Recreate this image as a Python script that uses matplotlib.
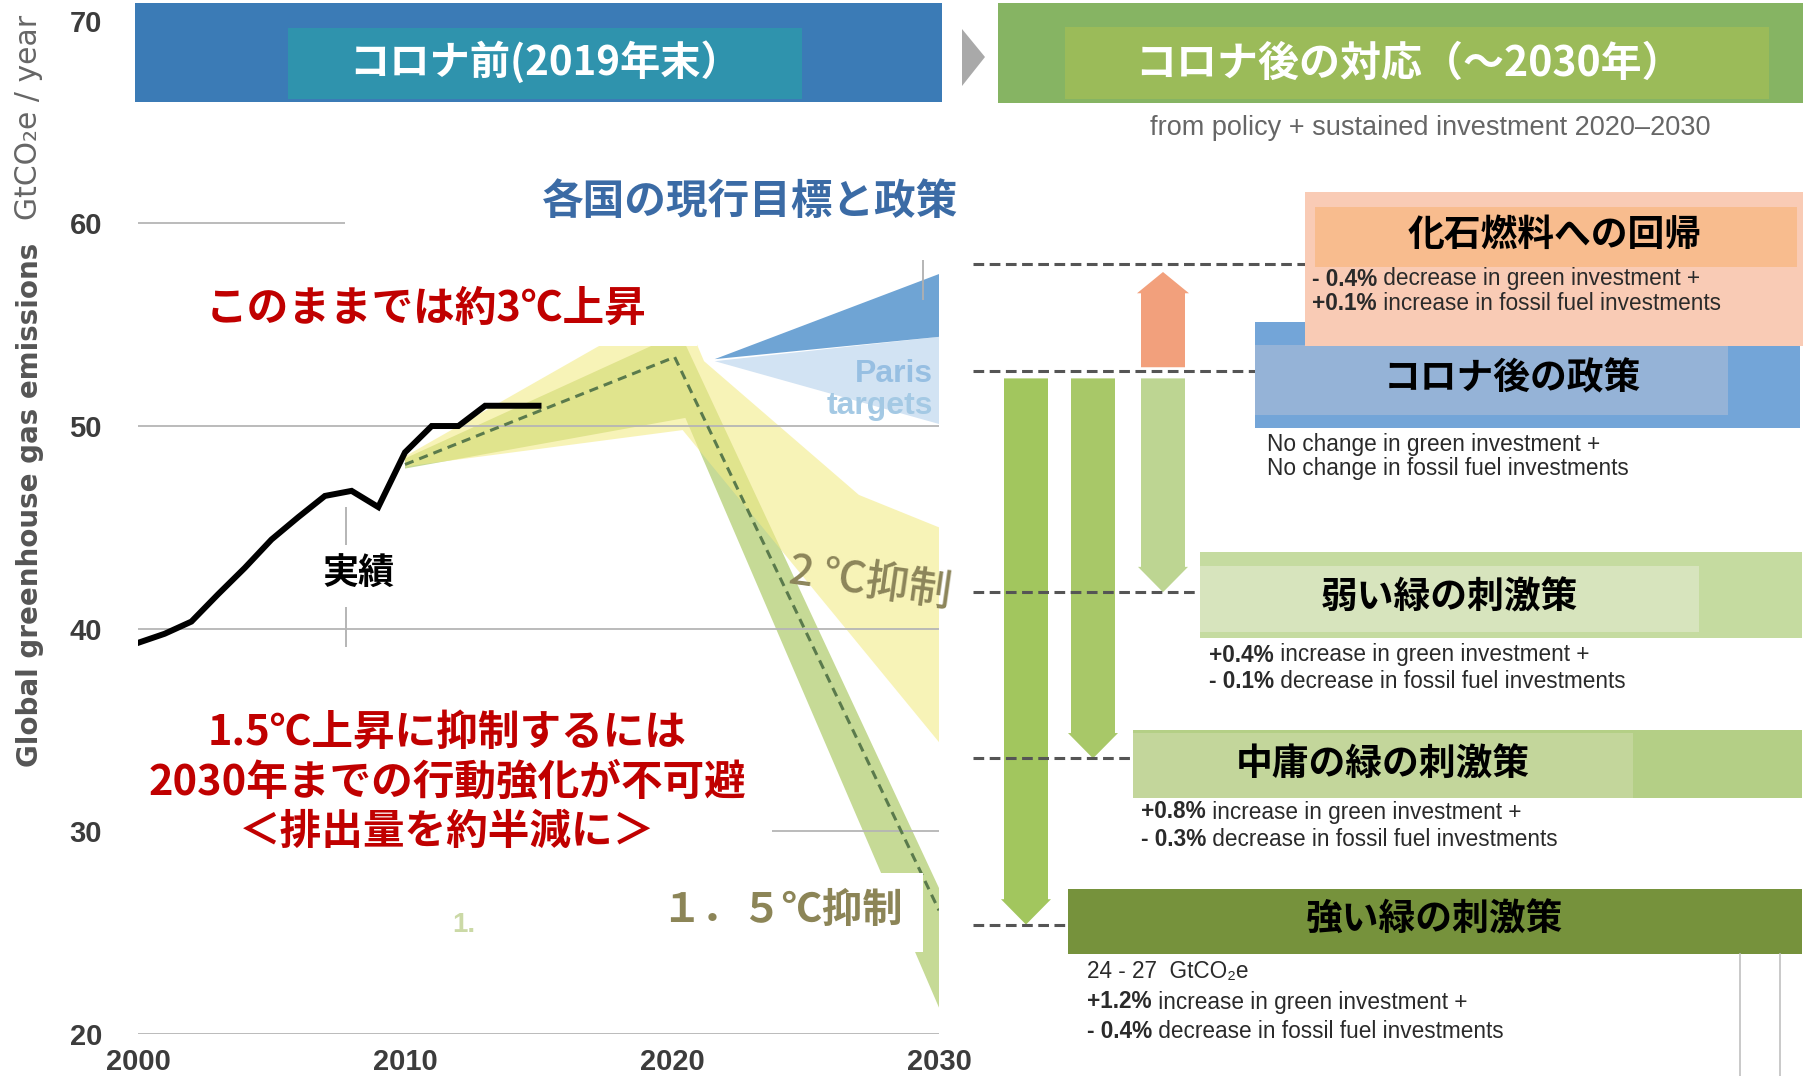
import matplotlib
matplotlib.use('Agg')
import matplotlib.pyplot as plt
from matplotlib.patches import Rectangle, Polygon, FancyArrow

W, H = 1806, 1076
JP = ['Noto Sans CJK JP', 'DejaVu Sans']
LAT = ['Liberation Sans', 'DejaVu Sans']

# --- data (GtCO2e / year) ---
hist_years = list(range(2000, 2016))
hist_emis = [39.3, 39.75, 40.35, 41.7, 43.0, 44.4, 45.5, 46.55, 46.8, 46.0,
             48.7, 50.0, 50.0, 51.0, 51.0, 51.0]

path_years = [2010, 2020.1, 2030]
path_emis = [48.1, 53.4, 26.1]

yellow_years = [2010, 2017.2, 2020.3, 2021.2, 2027.0, 2030, 2030, 2020.4, 2010]
yellow_emis = [48.5, 53.9, 56.0, 53.2, 46.6, 45.0, 34.4, 49.8, 48.0]

green_years = [2010, 2020.3, 2030, 2030, 2020.5, 2010]
green_emis = [48.4, 54.6, 27.2, 21.3, 50.4, 47.9]

paris_dark_years = [2021.6, 2030, 2030]
paris_dark_emis = [53.3, 57.5, 54.4]
paris_light_years = [2021.6, 2030, 2030]
paris_light_emis = [53.2, 54.4, 50.1]

marker_years = [2007.8, 2029.4]
marker_low = [39.1, 56.2]
marker_high = [46.0, 58.2]

yticks = [20, 30, 40, 50, 60, 70]
xticks = [2000, 2010, 2020, 2030]

# scenario levels in 2030
scenario_names = ['化石燃料への回帰', 'コロナ後の政策', '弱い緑の刺激策', '中庸の緑の刺激策', '強い緑の刺激策']
scenario_levels = [58.0, 52.7, 41.8, 33.6, 25.4]
arrow_start = 52.35
fossil_start = 52.9


def frac(x0, y0, x1, y1):
    return [x0 / W, 1 - y1 / H, (x1 - x0) / W, (y1 - y0) / H]


fig = plt.figure(figsize=(W / 100, H / 100), dpi=100)
fig.patch.set_facecolor('white')

# ---------------- chart ----------------
ax = fig.add_axes(frac(138, 20.7, 939, 1034))
ax.set_xlim(2000, 2030)
ax.set_ylim(20, 70)
for s in ax.spines.values():
    s.set_visible(False)
ax.set_yticks(yticks, labels=[str(v) for v in yticks], fontsize=21,
              fontweight='bold', family=LAT, color='#3c3c3c')
ax.set_xticks(xticks, labels=[str(v) for v in xticks], fontsize=21,
              fontweight='bold', family=LAT, color='#3c3c3c')
ax.tick_params(axis='y', length=0, pad=26)
ax.tick_params(axis='x', length=0, pad=10)
ax.set_axisbelow(False)
ax.grid(axis='y', color='#b5b5b5', lw=1.3, zorder=2.5)
ax.grid(axis='x', visible=False)

ax.fill(paris_light_years, paris_light_emis, color='#d2e3f3', lw=0, zorder=1)
ax.fill(paris_dark_years, paris_dark_emis, color='#6fa4d4', lw=0, zorder=1.1)
ax.fill(green_years, green_emis, color='#c6da96', lw=0, zorder=1.2)
ax.fill(yellow_years, yellow_emis, color='#f3eb88', alpha=0.6, lw=0, zorder=1.4)
ax.plot(path_years, path_emis, color='#5a7a4c', lw=2.2, ls=(0, (3, 2)), zorder=3)
ax.vlines(marker_years, marker_low, marker_high, color='#b0b0b0', lw=1.3, zorder=2)
ax.plot(hist_years, hist_emis, color='black', lw=4.3, solid_joinstyle='miter', zorder=4)

ax.set_ylabel('Global greenhouse gas emissions', fontsize=20, fontweight='bold',
              color='#555555', family=['DejaVu Sans'])
ax.yaxis.set_label_coords((44 - 138) / 801, (1034 - 505) / 1013.3)

# ---------------- right panel (same y scale) ----------------
rax = fig.add_axes(frac(939, 20.7, 1806, 1034))
rax.set_xlim(939, 1806)
rax.set_ylim(20, 70)
rax.axis('off')

dash_ends = [1307, 1255, 1200, 1133, 1069]
for lvl, x1 in zip(scenario_levels, dash_ends):
    rax.plot([973, x1], [lvl, lvl], color='#555555', lw=2.2, ls=(0, (3.5, 1.8)))

arrow_x = [1026, 1093, 1163]
arrow_cols = ['#a2c65e', '#a8c868', '#bdd592']
for x, lvl, c in zip(arrow_x, scenario_levels[::-1][:3], arrow_cols):
    rax.add_patch(FancyArrow(x, arrow_start, 0, lvl - arrow_start, width=44,
                             head_width=50, head_length=1.25,
                             length_includes_head=True, color=c, lw=0))
rax.add_patch(FancyArrow(1163, fossil_start, 0, scenario_levels[0] - 0.4 - fossil_start,
                         width=44, head_width=52, head_length=1.05,
                         length_includes_head=True, color='#f2a07c', lw=0))

# ---------------- decorations (pixel coords) ----------------
deco = fig.add_axes([0, 0, 1, 1])
deco.set_xlim(0, W)
deco.set_ylim(H, 0)
deco.axis('off')


def box(x0, y0, x1, y1, color, z=1):
    deco.add_patch(Rectangle((x0, y0), x1 - x0, y1 - y0, facecolor=color,
                             edgecolor='none', zorder=z))


# headers
box(135, 3, 942, 102, '#3b7bb6')
box(288, 28, 802, 99, '#2f93ad', 2)
deco.text(545, 63, 'コロナ前(2019年末）', family=JP, fontweight='bold', fontsize=29,
          color='white', ha='center', va='center', zorder=3)
deco.add_patch(Polygon([[962, 29], [985, 57], [962, 86]], closed=True,
                       facecolor='#a9a9a9', edgecolor='none'))
box(998, 3, 1803, 103, '#86b463')
box(1065, 27, 1769, 99, '#9bbb59', 2)
deco.text(1409, 64, 'コロナ後の対応（～2030年）', family=JP, fontweight='bold',
          fontsize=29.5, color='white', ha='center', va='center', zorder=3)
deco.text(1430, 128, 'from policy + sustained investment 2020\u20132030', family=LAT,
          fontsize=19.5, color='#666666', ha='center', va='center')
deco.text(29, 117, 'GtCO\u2082e / year', family=['DejaVu Sans'], fontsize=21.5,
          color='#666666', rotation=90, ha='center', va='center')

# white label boxes over the chart
box(345, 150, 965, 238, 'white')
deco.text(750, 202, '各国の現行目標と政策', family=JP, fontweight='bold', fontsize=30,
          color='#3b6ba5', ha='center', va='center', zorder=3)
box(190, 266, 697, 346, 'white')
deco.text(426, 309, 'このままでは約3℃上昇', family=JP, fontweight='bold', fontsize=30,
          color='#c00000', ha='center', va='center', zorder=3)
box(320, 545, 418, 607, 'white')
deco.text(359, 574, '実績', family=JP, fontweight='bold', fontsize=26,
          color='black', ha='center', va='center', zorder=3)
deco.text(870, 582, '2 ℃抑制', family=JP, fontweight='medium', fontsize=31,
          color='#8c855a', ha='center', va='center', rotation=-8, zorder=3)
deco.text(933, 374, 'Paris', family=LAT, fontweight='bold', fontsize=23,
          color='#97bfe2', ha='right', va='center', zorder=3)
deco.text(933, 406, 'targets', family=LAT, fontweight='bold', fontsize=23,
          color='#a4c9e4', ha='right', va='center', zorder=3)

box(125, 690, 772, 870, 'white')
red_lines = ['1.5℃上昇に抑制するには', '2030年までの行動強化が不可避', '＜排出量を約半減に＞']
for yy, s in zip([733, 783, 832], red_lines):
    deco.text(447, yy, s, family=JP, fontweight='bold', fontsize=30,
              color='#c00000', ha='center', va='center', zorder=3)
box(475, 873, 923, 952, 'white')
deco.text(464, 925, '1.', family=LAT, fontweight='bold', fontsize=20,
          color='#cbd9a6', ha='center', va='center', zorder=3)
deco.text(782, 911, '１．５℃抑制', family=JP, fontweight='bold', fontsize=29,
          color='#8c8557', ha='center', va='center', zorder=3)

# scenario boxes
box(1255, 322, 1800, 428, '#73a5d8')
box(1255, 345, 1728, 415, '#95b3d7', 2)
box(1305, 192, 1803, 346, '#f9cbb5', 3)
box(1315, 207, 1797, 267, '#f8bc8e', 4)
box(1200, 552, 1802, 638, '#c5dba0')
box(1200, 566, 1699, 632, '#d7e4bd', 2)
box(1133, 730, 1802, 798, '#b4cf86')
box(1133, 733, 1633, 798, '#c3d69b', 2)
box(1068, 889, 1802, 954, '#76923c')
deco.plot([1740, 1740], [954, 1076], color='#c0c0c0', lw=1.2)
deco.plot([1780, 1780], [954, 1076], color='#c0c0c0', lw=1.2)

title_pos = [(1555, 235), (1512, 379), (1449, 598), (1383, 765), (1434, 920)]
for (tx, ty), name in zip(title_pos, scenario_names):
    deco.text(tx, ty, name, family=JP, fontweight='bold', fontsize=26.5,
              color='black', ha='center', va='center', zorder=5)


def info(x, y, head, tail):
    kw = dict(family=LAT, fontsize=16.3, color='#2a2a2a', va='center', zorder=5)
    if not head:
        deco.text(x, y, tail, **kw)
        return
    t = deco.text(x, y, head, fontweight='bold', **kw)
    if tail:
        deco.annotate(tail, xy=(1, 0.5), xycoords=t, ha='left', **kw)


info(1312, 279, '- 0.4%', ' decrease in green investment +')
info(1312, 303, '+0.1%', ' increase in fossil fuel investments')
info(1267, 445, '', 'No change in green investment +')
info(1267, 468, '', 'No change in fossil fuel investments')
info(1209, 655, '+0.4%', ' increase in green investment +')
info(1209, 682, '- 0.1%', ' decrease in fossil fuel investments')
info(1141, 812, '+0.8%', ' increase in green investment +')
info(1141, 840, '- 0.3%', ' decrease in fossil fuel investments')
info(1087, 972, '', '24 - 27  GtCO\u2082e')
info(1087, 1002, '+1.2%', ' increase in green investment +')
info(1087, 1031, '- 0.4%', ' decrease in fossil fuel investments')

fig.savefig('out.png', dpi=100, facecolor='white')
